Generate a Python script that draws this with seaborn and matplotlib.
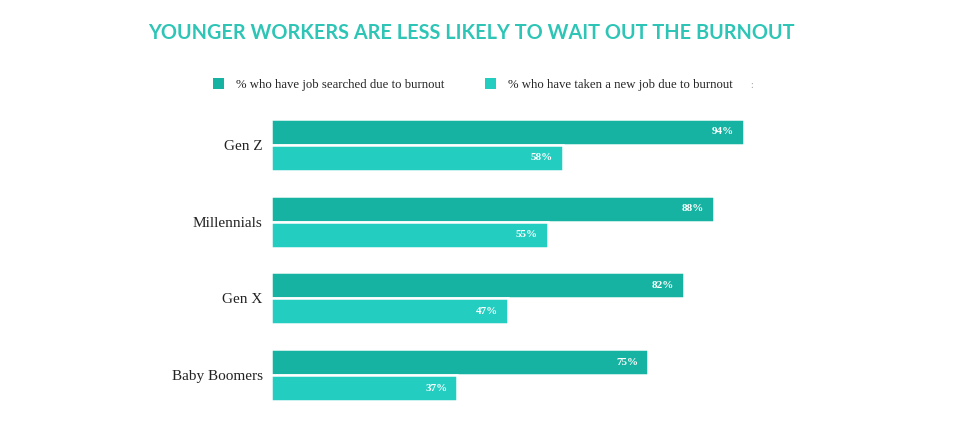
import pandas as pd
import matplotlib
matplotlib.use("Agg")
import matplotlib.pyplot as plt
from matplotlib.patches import Patch
import seaborn as sns

# data
generations = ["Gen Z", "Millennials", "Gen X", "Baby Boomers"]
job_searched = [94, 88, 82, 75]
new_job = [58, 55, 47, 37]
series_names = ["% who have job searched due to burnout",
                "% who have taken a new job due to burnout"]
colors = ["#16B3A2", "#23CEC0"]

df = pd.DataFrame({
    "generation": generations * 2,
    "value": job_searched + new_job,
    "series": [series_names[0]] * 4 + [series_names[1]] * 4,
})

sns.set_theme(style="white")
serif = ["Liberation Serif", "DejaVu Serif"]

fig = plt.figure(figsize=(9.58, 4.28), dpi=100)
ax = fig.add_axes([0.283, 0.034, 0.525, 0.717])

sns.barplot(data=df, y="generation", x="value", hue="series",
            palette=colors, saturation=1, order=generations,
            hue_order=series_names, width=0.68, edgecolor="white",
            linewidth=1.8, orient="h", legend=False, ax=ax)

ax.set_xlim(0, 100)
ax.set_ylim(3.5, -0.5)
ax.set_xlabel("")
ax.set_ylabel("")
ax.set_xticks([])
for s in ax.spines.values():
    s.set_visible(False)
ax.tick_params(axis="y", length=0, pad=6)
for lbl in ax.get_yticklabels():
    lbl.set_fontfamily(serif)
    lbl.set_fontsize(11)
    lbl.set_color("#222222")

# value labels inside bars
for cont in ax.containers:
    ax.bar_label(cont, labels=[f"{int(v)}%" for v in cont.datavalues],
                 padding=-23, color="white", fontsize=8,
                 fontweight="bold", family=serif)

# legend in figure coords
handles = [Patch(facecolor=c, edgecolor="none") for c in colors]
fig.legend(handles, series_names, ncol=2, loc="center left",
           bbox_to_anchor=(0.222, 0.803), frameon=False,
           handlelength=0.9, handleheight=0.9, borderaxespad=0,
           borderpad=0, columnspacing=3.2, handletextpad=0.9,
           prop={"family": serif, "size": 9.2})
fig.text(0.783, 0.80, ":", fontsize=7, color="#999999", family=serif,
         va="center")

fig.text(0.492, 0.924,
         "YOUNGER WORKERS ARE LESS LIKELY TO WAIT OUT THE BURNOUT",
         ha="center", va="center", fontsize=14.3, fontweight="bold",
         color="#2EC5B6", family=["Lato", "DejaVu Sans"])

fig.savefig("out.png", dpi=100)
